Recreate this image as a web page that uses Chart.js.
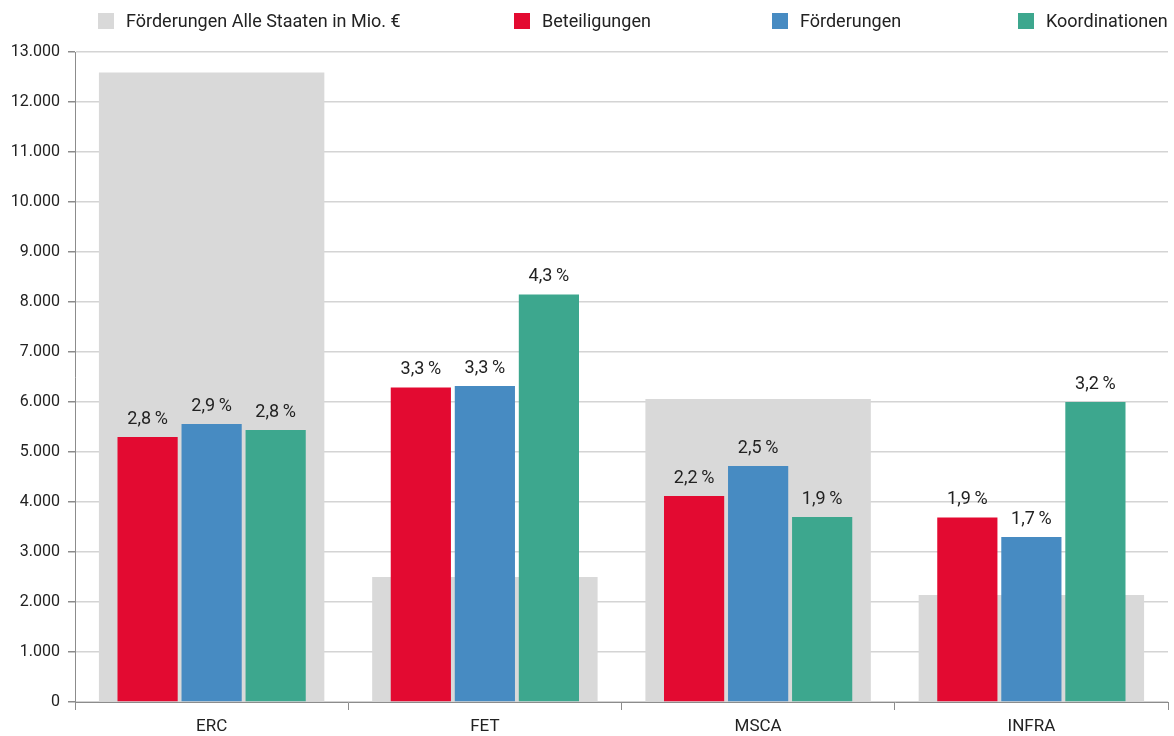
<!DOCTYPE html>
<html>
<head>
<meta charset="utf-8">
<script src="https://cdn.jsdelivr.net/npm/chart.js@4"></script>
<style>
    html, body { margin: 0; padding: 0; background: #fff; }
    #wrap { width: 1174px; height: 736px; }
</style>
</head>
<body>
<div id="wrap"><canvas id="chart" width="1174" height="736"></canvas></div>
<script>
// values (Mio. €)
const categories = ['ERC', 'FET', 'MSCA', 'INFRA'];
const alleStaaten = [12590, 2500, 6060, 2140];
const beteiligungen = [5300, 6290, 4120, 3690];
const foerderungen = [5560, 6320, 4720, 3300];
const koordinationen = [5440, 8150, 3700, 6000];

// percentage labels above the coloured bars
const beteiligungenPct = ['2,8', '3,3', '2,2', '1,9'];
const foerderungenPct = ['2,9', '3,3', '2,5', '1,7'];
const koordinationenPct = ['2,8', '4,3', '1,9', '3,2'];

const yTicks = { min: 0, max: 13000, step: 1000 };

const FONT = 'Roboto';
const TEXT = '#222';

const formatDE = v => String(v).replace(/\B(?=(\d{3})+(?!\d))/g, '.');

// labels drawn above each coloured bar
const pctPlugin = {
    id: 'pctLabels',
    afterDatasetsDraw(chart) {
        const ctx = chart.ctx;
        const lookup = { 1: beteiligungenPct, 2: foerderungenPct, 3: koordinationenPct };
        ctx.save();
        ctx.font = '18px ' + FONT;
        ctx.fillStyle = TEXT;
        ctx.textAlign = 'center';
        ctx.textBaseline = 'middle';
        Object.keys(lookup).forEach(i => {
            const meta = chart.getDatasetMeta(+i);
            meta.data.forEach((bar, j) => {
                ctx.fillText(lookup[i][j] + '\u2009%', bar.x, bar.y - 18);
            });
        });
        ctx.restore();
    }
};

// legend with the item spacing of the original
const legendX = [98, 514, 772, 1018];
const legendPlugin = {
    id: 'wideLegend',
    afterDraw(chart) {
        const ctx = chart.ctx;
        ctx.save();
        ctx.font = '18px ' + FONT;
        ctx.textBaseline = 'middle';
        ctx.textAlign = 'left';
        chart.data.datasets.forEach((ds, i) => {
            const x = legendX[i];
            ctx.fillStyle = ds.backgroundColor;
            ctx.fillRect(x, 13, 16, 16);
            ctx.fillStyle = TEXT;
            ctx.fillText(ds.label, x + 28, 22);
        });
        ctx.restore();
    }
};

new Chart(document.getElementById('chart'), {
    type: 'bar',
    data: {
        labels: categories,
        datasets: [
            {
                label: 'Förderungen Alle Staaten in Mio. €',
                data: alleStaaten,
                backgroundColor: '#d9d9d9',
                grouped: false,
                order: 1,
                categoryPercentage: 0.825,
                barPercentage: 1
            },
            {
                label: 'Beteiligungen',
                data: beteiligungen,
                backgroundColor: '#e30a31',
                order: 0,
                categoryPercentage: 0.703,
                barPercentage: 0.94
            },
            {
                label: 'Förderungen',
                data: foerderungen,
                backgroundColor: '#478bc2',
                order: 0,
                categoryPercentage: 0.703,
                barPercentage: 0.94
            },
            {
                label: 'Koordinationen',
                data: koordinationen,
                backgroundColor: '#3da78e',
                order: 0,
                categoryPercentage: 0.703,
                barPercentage: 0.94
            }
        ]
    },
    options: {
        responsive: false,
        animation: false,
        layout: {
            padding: { top: 52, right: 6, left: 0, bottom: 0 }
        },
        plugins: {
            legend: { display: false },
            tooltip: { enabled: false }
        },
        scales: {
            x: {
                offset: true,
                grid: {
                    offset: true,
                    drawOnChartArea: false,
                    tickLength: 8,
                    tickColor: '#8c8c8c'
                },
                border: { color: '#8c8c8c', width: 1 },
                ticks: {
                    color: TEXT,
                    padding: 7,
                    font: { family: FONT, size: 17 }
                },
                afterFit(scale) { scale.height = 34; }
            },
            y: {
                min: yTicks.min,
                max: yTicks.max,
                grid: {
                    color: '#d4d4d4',
                    lineWidth: 1.5,
                    tickLength: 7,
                    tickColor: '#8c8c8c'
                },
                border: { color: '#8c8c8c', width: 1 },
                ticks: {
                    stepSize: yTicks.step,
                    color: TEXT,
                    padding: 8,
                    font: { family: FONT, size: 16 },
                    callback: v => formatDE(v)
                },
                afterFit(scale) { scale.width = 75; }
            }
        }
    },
    plugins: [pctPlugin, legendPlugin]
});
</script>
</body>
</html>
